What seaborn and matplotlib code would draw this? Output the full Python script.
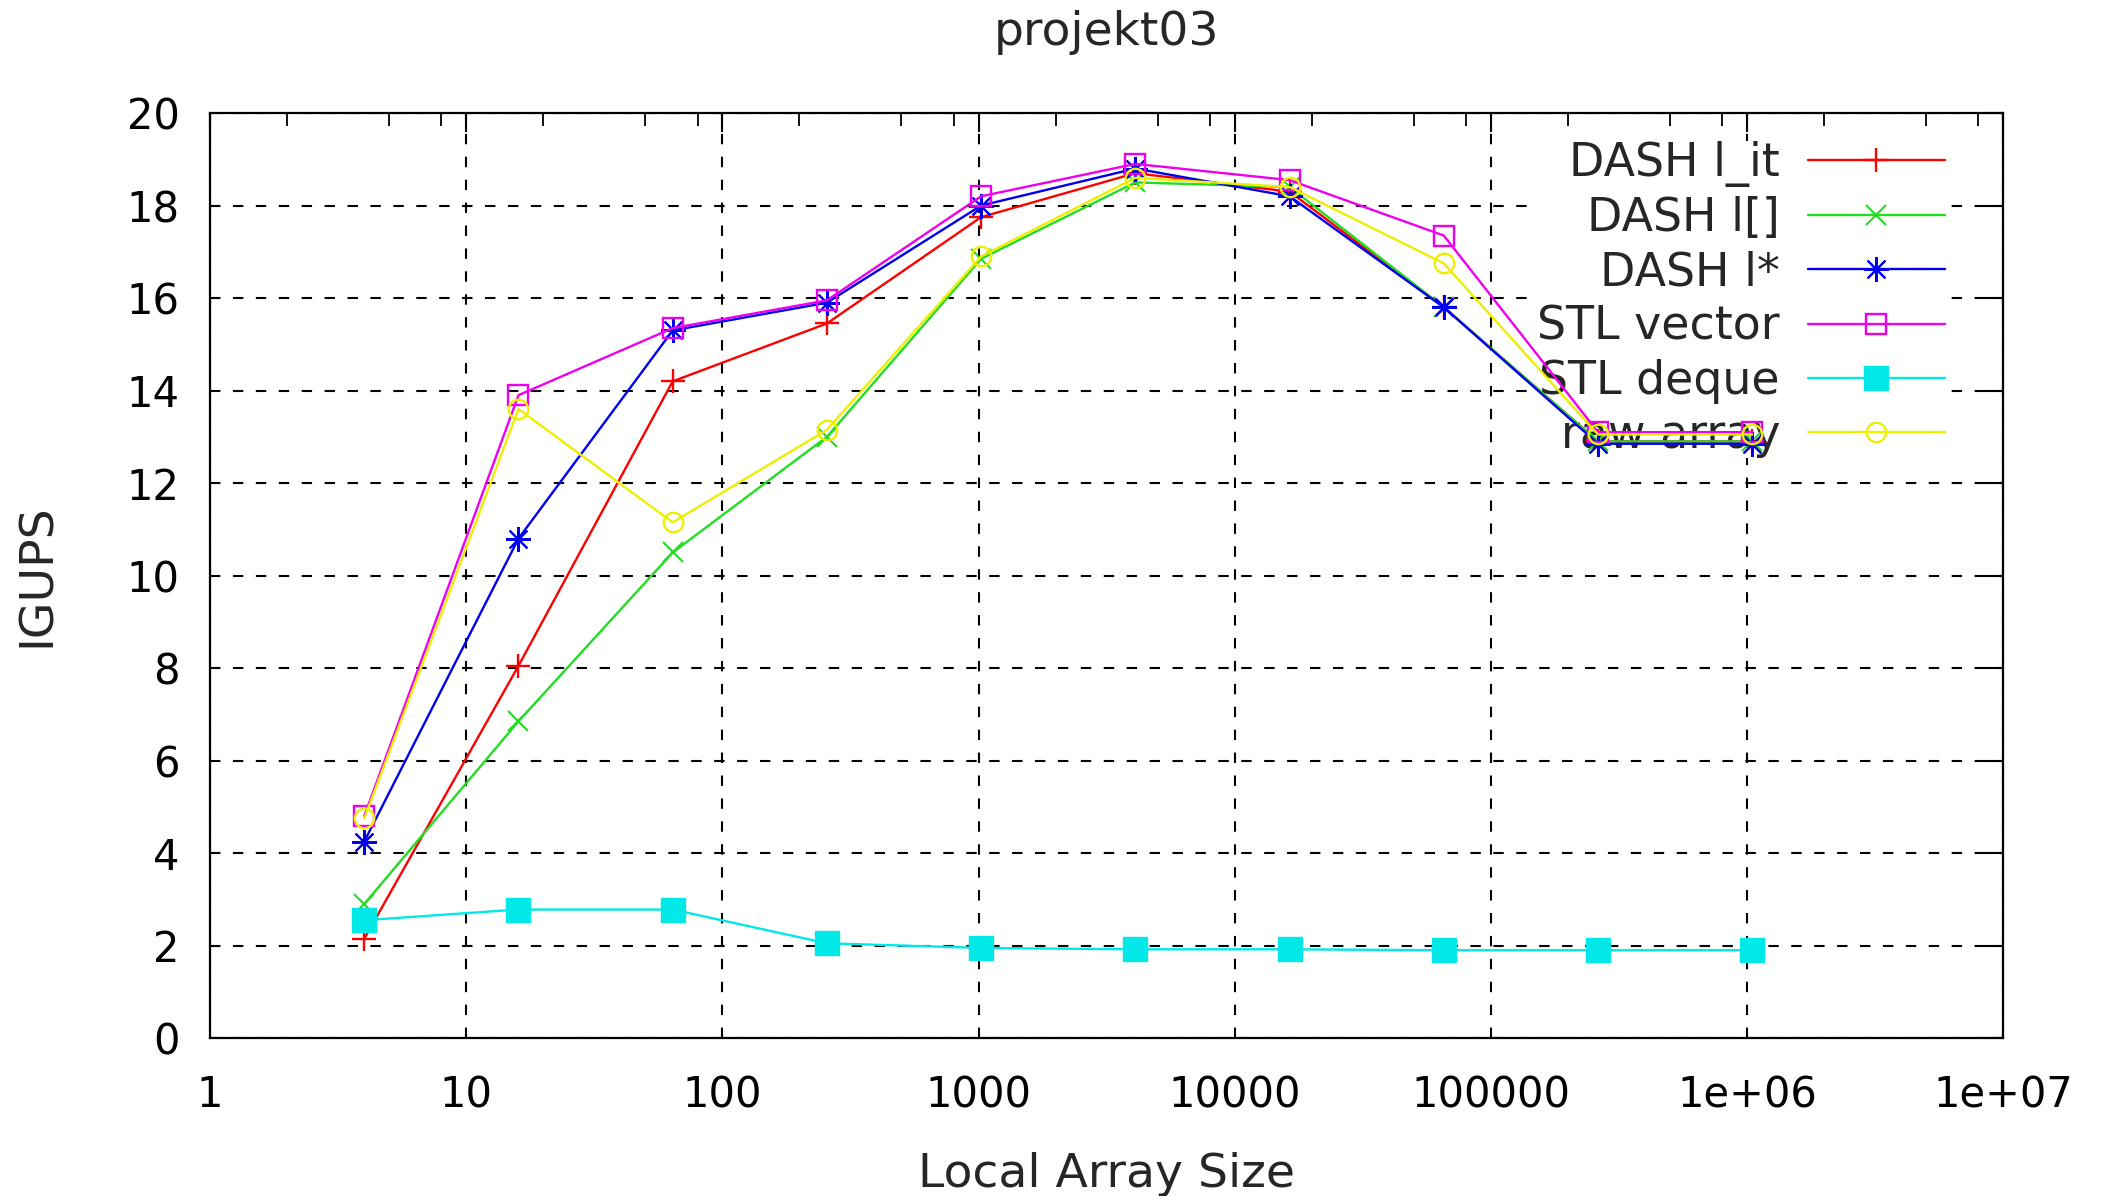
import numpy as np
import pandas as pd
import seaborn as sns
import matplotlib.pyplot as plt
from matplotlib.ticker import FixedLocator, FixedFormatter, NullFormatter

# Local array sizes (x) and IGUPS per variant
sizes = [4, 16, 64, 256, 1024, 4096, 16384, 65536, 262144, 1048576]
dash_l_it = [2.15, 8.05, 14.2, 15.45, 17.75, 18.7, 18.3, 15.8, 12.9, 12.9]
dash_l_idx = [2.9, 6.85, 10.5, 13.0, 16.85, 18.5, 18.4, 15.8, 12.9, 12.9]
dash_l_ptr = [4.25, 10.8, 15.3, 15.9, 18.0, 18.8, 18.2, 15.8, 12.85, 12.85]
stl_vector = [4.8, 13.9, 15.35, 15.95, 18.2, 18.9, 18.55, 17.35, 13.1, 13.1]
stl_deque = [2.55, 2.78, 2.78, 2.05, 1.95, 1.92, 1.92, 1.9, 1.9, 1.9]
raw_array = [4.75, 13.6, 11.15, 13.15, 16.9, 18.6, 18.4, 16.75, 13.05, 13.05]

series_names = ['DASH l_it', 'DASH l[]', 'DASH l*', 'STL vector', 'STL deque', 'raw array']
series_values = [dash_l_it, dash_l_idx, dash_l_ptr, stl_vector, stl_deque, raw_array]

x_ticks = [1, 10, 100, 1000, 10000, 100000, 1000000, 10000000]
x_tick_labels = ['1', '10', '100', '1000', '10000', '100000', '1e+06', '1e+07']
y_ticks = [0, 2, 4, 6, 8, 10, 12, 14, 16, 18, 20]

styles = {
    'DASH l_it': dict(color='#ff0000', marker='+', markersize=17, mfc='none', mew=1.7),
    'DASH l[]': dict(color='#22dd22', marker='x', markersize=14, mfc='none', mew=1.5),
    'DASH l*': dict(color='#0000ee', marker=(8, 2, 0), markersize=18, mfc='none', mew=1.5),
    'STL vector': dict(color='#ee00ee', marker='s', markersize=14, mfc='none', mew=1.7),
    'STL deque': dict(color='#00e8e8', marker='s', markersize=17, mfc='#00e8e8', mew=1.0),
    'raw array': dict(color='#eeee00', marker='o', markersize=14, mfc='none', mew=1.7),
}

sns.set_style('white')
plt.rcParams['font.family'] = ['DejaVu Sans']

fig = plt.figure(figsize=(21.11, 11.96), dpi=100)
ax = fig.add_axes([0.0995, 0.132, 0.8494, 0.7735])

df = pd.DataFrame({'size': sizes})
for name, vals in zip(series_names, series_values):
    st = styles[name]
    df[name] = vals
    sns.lineplot(data=df, x='size', y=name, ax=ax, label=name, color=st['color'],
                 marker=st['marker'], markersize=st['markersize'],
                 markerfacecolor=st['mfc'], markeredgecolor=st['color'],
                 markeredgewidth=st['mew'], linewidth=1.7)

ax.set_xscale('log')
ax.set_xlim(1, 1e7)
ax.set_ylim(0, 20)
ax.xaxis.set_major_locator(FixedLocator(x_ticks))
ax.xaxis.set_major_formatter(FixedFormatter(x_tick_labels))
minor = [m * d for d in [1, 10, 100, 1000, 10000, 100000, 1000000] for m in (2, 5, 8)]
ax.xaxis.set_minor_locator(FixedLocator(minor))
ax.xaxis.set_minor_formatter(NullFormatter())
ax.set_yticks(y_ticks)

ax.tick_params(which='both', direction='in', top=True, right=True, colors='black')
ax.tick_params(which='major', length=14, width=1.5)
ax.tick_params(which='minor', length=9, width=1.3)
ax.tick_params(axis='x', which='major', labelsize=30, pad=26)
ax.tick_params(axis='y', which='major', labelsize=30, pad=22)

for sp in ax.spines.values():
    sp.set_color('black')
    sp.set_linewidth(1.6)

ax.set_axisbelow(True)
ax.grid(True, which='major', color='black', linestyle=(0, (5, 6)), linewidth=1.5)

ax.set_title('projekt03', fontsize=34, pad=49)
ax.set_xlabel('Local Array Size', fontsize=34, labelpad=26)
ax.set_ylabel('IGUPS', fontsize=34, labelpad=48)

leg = ax.legend(loc='upper right', bbox_to_anchor=(0.9214, 0.882), bbox_transform=fig.transFigure,
                markerfirst=False, frameon=True, fontsize=33, handlelength=3.0,
                handletextpad=0.6, labelspacing=0.2, borderpad=0, borderaxespad=0)
leg.get_frame().set_facecolor('white')
leg.get_frame().set_edgecolor('none')
leg.get_frame().set_alpha(1.0)
leg.set_zorder(1.5)

fig.savefig('out.png', dpi=100)
